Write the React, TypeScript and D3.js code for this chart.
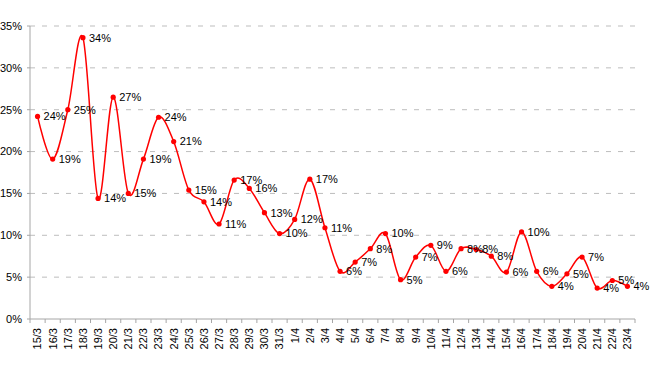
import React from "react";
import * as d3 from "d3";

const dates = [
  "15/3", "16/3", "17/3", "18/3", "19/3", "20/3", "21/3", "22/3", "23/3", "24/3",
  "25/3", "26/3", "27/3", "28/3", "29/3", "30/3", "31/3", "1/4", "2/4", "3/4",
  "4/4", "5/4", "6/4", "7/4", "8/4", "9/4", "10/4", "11/4", "12/4", "13/4",
  "14/4", "15/4", "16/4", "17/4", "18/4", "19/4", "20/4", "21/4", "22/4", "23/4",
];

// percent values
const values = [
  24.2, 19.1, 25.0, 33.6, 14.4, 26.5, 15.0, 19.1, 24.1, 21.2,
  15.4, 14.0, 11.35, 16.6, 15.6, 12.7, 10.2, 11.9, 16.7, 10.9,
  5.7, 6.8, 8.4, 10.2, 4.7, 7.4, 8.8, 5.7, 8.4, 8.3,
  7.5, 5.6, 10.4, 5.7, 3.9, 5.4, 7.4, 3.7, 4.6, 3.9,
];

const yTicks = [0, 5, 10, 15, 20, 25, 30, 35];

const W = 660;
const H = 374;
const margin = { top: 26, right: 25, bottom: 55, left: 30 };

export default function App() {
  const innerW = W - margin.left - margin.right;
  const innerH = H - margin.top - margin.bottom;

  const x = d3.scaleBand().domain(dates).range([0, innerW]).padding(0);
  const y = d3.scaleLinear().domain([0, 35]).range([innerH, 0]);

  const cx = (d: string) => (x(d) as number) + x.bandwidth() / 2;

  const line = d3
    .line<number>()
    .x((_, i) => cx(dates[i]))
    .y((v) => y(v))
    .curve(d3.curveCardinal.tension(0));

  const font = "'Liberation Sans', Arial, sans-serif";
  const boundaries = dates.map((d) => x(d) as number).concat([innerW]);

  return (
    <svg
      width={W}
      height={H}
      style={{ position: "absolute", left: 0, top: 0, background: "#fff" }}
      fontFamily={font}
    >
      <g transform={`translate(${margin.left},${margin.top})`}>
        {yTicks.slice(1).map((t) => (
          <line
            key={"g" + t}
            x1={0}
            x2={innerW}
            y1={y(t)}
            y2={y(t)}
            stroke="#bdbdbd"
            strokeDasharray="5,7"
          />
        ))}
        {/* y axis */}
        <line x1={0} x2={0} y1={0} y2={innerH} stroke="#a6a6a6" />
        {yTicks.map((t) => (
          <g key={"y" + t} transform={`translate(0,${y(t)})`}>
            <line x1={-3} x2={0} stroke="#a6a6a6" />
            <text x={-8} dy="0.35em" textAnchor="end" fontSize={11} fill="#000">
              {t}%
            </text>
          </g>
        ))}
        {/* x axis */}
        <line x1={0} x2={innerW} y1={innerH} y2={innerH} stroke="#a6a6a6" />
        {boundaries.map((b, i) => (
          <line key={"t" + i} x1={b} x2={b} y1={innerH} y2={innerH + 4} stroke="#a6a6a6" />
        ))}
        {dates.map((d) => (
          <text
            key={"x" + d}
            transform={`translate(${cx(d)},${innerH + 9}) rotate(-90)`}
            dy="0.35em"
            textAnchor="end"
            fontSize={11}
            fill="#000"
          >
            {d}
          </text>
        ))}
        <path d={line(values) || ""} fill="none" stroke="#ff0000" strokeWidth={1.5} />
        {values.map((v, i) => (
          <circle key={"c" + i} cx={cx(dates[i])} cy={y(v)} r={2.6} fill="#ff0000" />
        ))}
        {values.map((v, i) => (
          <text
            key={"l" + i}
            x={cx(dates[i]) + 6}
            y={y(v)}
            dy="0.35em"
            fontSize={11}
            fill="#000"
          >
            {Math.round(v)}%
          </text>
        ))}
      </g>
    </svg>
  );
}
